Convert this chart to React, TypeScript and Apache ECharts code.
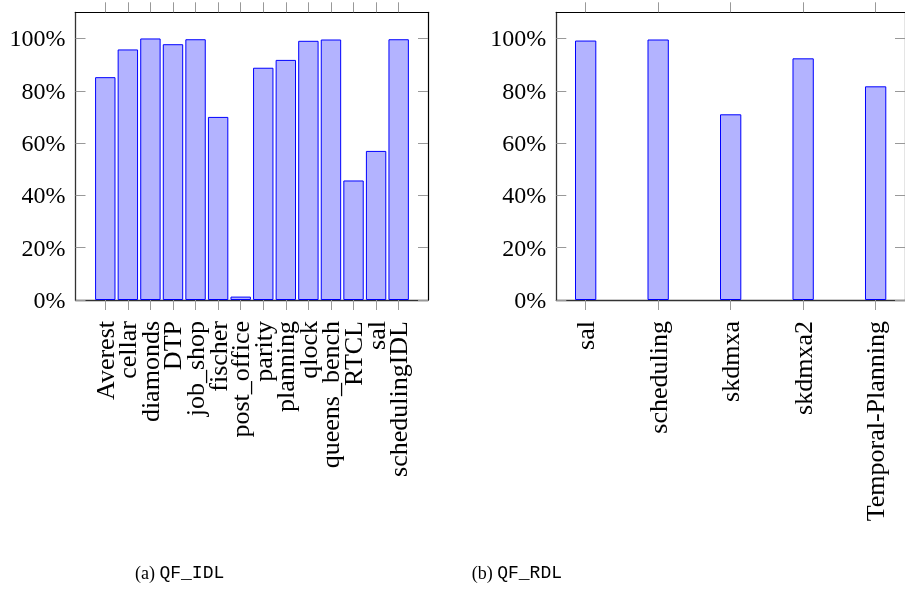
import React, { useEffect, useRef } from 'react';
import * as echarts from 'echarts';

const idlCategories = ['Averest', 'cellar', 'diamonds', 'DTP', 'job_shop', 'fischer', 'post_office', 'parity', 'planning', 'qlock', 'queens_bench', 'RTCL', 'sal', 'schedulingIDL'];
const idlValues = [85.2, 95.8, 100, 97.8, 99.7, 70.0, 1.3, 88.8, 91.8, 99.1, 99.6, 45.7, 57.0, 99.7];
const rdlCategories = ['sal', 'scheduling', 'skdmxa', 'skdmxa2', 'Temporal-Planning'];
const rdlValues = [99.2, 99.6, 71.0, 92.4, 81.7];
const yTickValues = [0, 20, 40, 60, 80, 100];

const SERIF = 'Liberation Serif';
const MONO = 'Liberation Mono';
const TICK = { lineStyle: { color: '#999', width: 1 }, length: 10 };

function labelStyle(cats: string[], values: number[]) {
  return {
    show: true, customValues: values, rotate: 90, margin: 21,
    showMinLabel: true, showMaxLabel: true, hideOverlap: false,
    fontFamily: SERIF, fontSize: 26, color: '#000',
    formatter: (v: number) => cats[Math.round(v)] ?? '',
  };
}

// Bottom axis (line, ticks, even labels), a label-only twin (odd labels), and a mirrored top axis.
function xAxes(gridIndex: number, cats: string[], min: number, max: number) {
  const idx = cats.map((_, i) => i);
  const even = idx.filter((i) => i % 2 === 0);
  const odd = idx.filter((i) => i % 2 === 1);
  return [
    {
      type: 'value', gridIndex, min, max, position: 'bottom',
      splitLine: { show: false },
      axisLine: { show: true, onZero: false, lineStyle: { color: '#333', width: 1.3 } },
      axisTick: { show: true, inside: false, customValues: idx, ...TICK },
      axisLabel: labelStyle(cats, even),
    },
    {
      type: 'value', gridIndex, min, max, position: 'bottom',
      splitLine: { show: false },
      axisLine: { show: false, onZero: false },
      axisTick: { show: false },
      axisLabel: labelStyle(cats, odd),
    },
    {
      type: 'value', gridIndex, min, max, position: 'top',
      splitLine: { show: false },
      axisLine: { show: true, onZero: false, lineStyle: { color: '#000', width: 1.2 } },
      axisTick: { show: true, inside: false, customValues: idx, ...TICK },
      axisLabel: { show: false },
    },
  ];
}

function yAxes(gridIndex: number) {
  return [
    {
      type: 'value', gridIndex, min: 0, max: 110, position: 'left',
      splitLine: { show: false },
      axisLine: { show: true, onZero: false, lineStyle: { color: '#333', width: 1.3 } },
      axisTick: { show: true, inside: true, customValues: yTickValues, ...TICK },
      axisLabel: {
        show: true, customValues: yTickValues, margin: 10,
        showMinLabel: true, showMaxLabel: true,
        fontFamily: SERIF, fontSize: 24, color: '#000',
        formatter: (v: number) => `${v}%`,
      },
    },
    {
      type: 'value', gridIndex, min: 0, max: 110, position: 'right',
      splitLine: { show: false },
      axisLine: { show: true, onZero: false, lineStyle: { color: '#000', width: 1.2 } },
      axisTick: { show: true, inside: true, customValues: yTickValues, ...TICK },
      axisLabel: { show: false },
    },
  ];
}

export default function App() {
  const ref = useRef<HTMLDivElement>(null);
  useEffect(() => {
    if (!ref.current) return;
    const chart = echarts.init(ref.current, null, { renderer: 'svg' });
    const barStyle = { color: '#b3b3ff', borderColor: '#0000ff', borderWidth: 1 };
    const captionRich = {
      a: { fontFamily: SERIF, fontSize: 18, fill: '#000' },
      b: { fontFamily: MONO, fontSize: 18, fill: '#000' },
    };
    chart.setOption({
      animation: false,
      grid: [
        { left: 75.5, top: 12.3, width: 352.5, height: 287.7 },
        { left: 556.3, top: 12.3, width: 352.7, height: 287.7 },
      ],
      xAxis: [
        ...xAxes(0, idlCategories, -1.32, 14.3),
        ...xAxes(1, rdlCategories, -0.405, 4.405),
      ],
      yAxis: [...yAxes(0), ...yAxes(1)],
      series: [
        {
          type: 'bar', xAxisIndex: 0, yAxisIndex: 0, barWidth: 20.4,
          itemStyle: barStyle,
          data: idlValues.map((v, i) => [i, v]),
        },
        {
          type: 'bar', xAxisIndex: 3, yAxisIndex: 2, barWidth: 21.3,
          itemStyle: barStyle,
          data: rdlValues.map((v, i) => [i, v]),
        },
      ],
      graphic: [
        {
          type: 'text', left: 135, top: 564,
          style: { text: '{a|(a) }{b|QF_IDL}', rich: captionRich },
        },
        {
          type: 'text', left: 471.7, top: 564,
          style: { text: '{a|(b) }{b|QF_RDL}', rich: captionRich },
        },
      ],
    });
    return () => chart.dispose();
  }, []);
  return <div ref={ref} style={{ position: 'fixed', left: 0, top: 0, width: 905, height: 595 }} />;
}
